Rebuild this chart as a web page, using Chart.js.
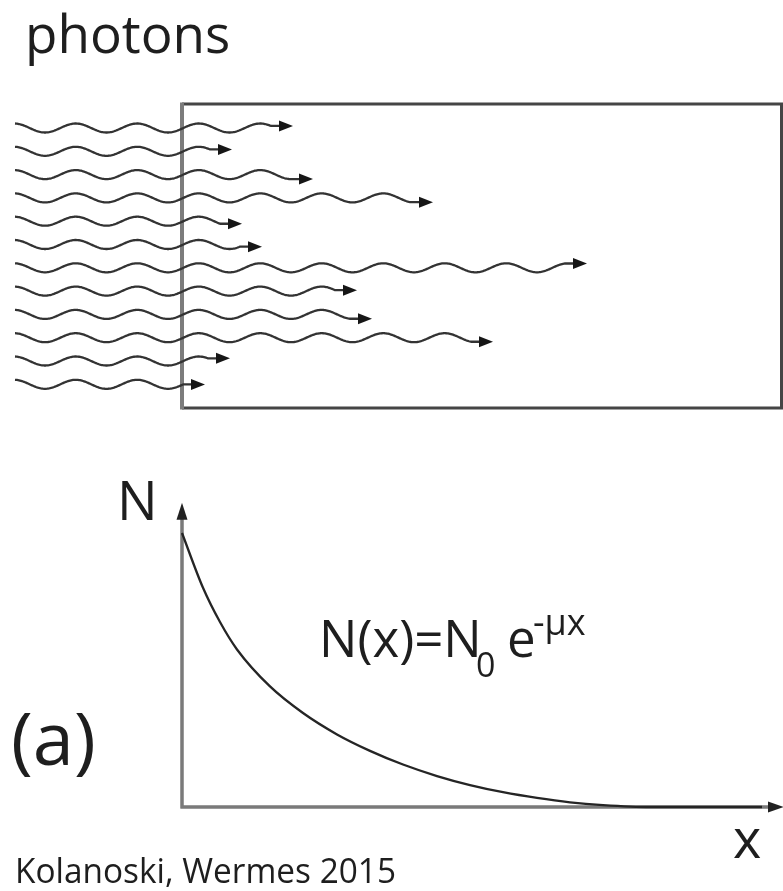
<!DOCTYPE html>
<html lang="en">
  <head>
    <title>Photon absorption</title>
    <meta charset="utf-8" />
    <script src="https://cdn.jsdelivr.net/npm/chart.js"></script>
    <style>
      html, body {
        margin: 0;
        padding: 0;
        background: #fff;
      }
      #wrap {
        width: 783px;
        height: 891px;
      }
    </style>
  </head>
  <body>
    <div id="wrap"><canvas id="fig" width="783" height="891"></canvas></div>

    <script>
      // photon rows (top to bottom) and how deep each one gets into the absorber
      var photonRows = [0, 1, 2, 3, 4, 5, 6, 7, 8, 9, 10, 11];
      var photonDepth = [111, 50, 131, 251, 60, 80, 405, 175, 190, 311, 48, 23];

      // N(x) curve (N in units of N0)
      var curveDepth = [0, 21, 38, 55, 88, 121, 155, 188, 221, 255, 288, 321, 355, 388, 421, 468, 580];
      var curveN = [1.0, 0.8, 0.675, 0.575, 0.44, 0.343, 0.265, 0.205, 0.155, 0.113, 0.08, 0.054, 0.033, 0.017, 0.007, 0.0, 0.0];

      var W = 783, H = 891;
      var x0px = 182;       // absorber entrance / N axis
      var n0px = 807;       // N = 0
      var nUnit = 274;      // px per N0
      var row0px = 128, rowGap = 23.3;

      var ink = "#1e1e1e";

      function text(ctx, s, x, y, size, w) {
        ctx.font = size + 'px "Open Sans"';
        ctx.fillStyle = ink;
        ctx.textBaseline = "alphabetic";
        ctx.textAlign = "left";
        if (w) ctx.fillText(s, x, y, w);
        else ctx.fillText(s, x, y);
      }

      var diagram = {
        id: "diagram",
        beforeDatasetsDraw: (chart) => {
          var ctx = chart.ctx;
          var sx = chart.scales.x, sn = chart.scales.yN;
          var ax = sx.getPixelForValue(0);
          var ay = sn.getPixelForValue(0);
          ctx.save();
          // absorber block
          ctx.lineCap = "butt";
          ctx.strokeStyle = "#454545";
          ctx.lineWidth = 3;
          ctx.beginPath();
          ctx.moveTo(ax, 104);
          ctx.lineTo(W - 1.5, 104);
          ctx.lineTo(W - 1.5, 408);
          ctx.lineTo(ax, 408);
          ctx.stroke();
          ctx.strokeStyle = "#7c7c7c";
          ctx.lineWidth = 4;
          ctx.beginPath();
          ctx.moveTo(ax, 102.5);
          ctx.lineTo(ax, 409.5);
          ctx.stroke();

          // axes of N(x)
          var yTip = sn.getPixelForValue(1.11);
          ctx.strokeStyle = "#7a7a7a";
          ctx.lineWidth = 3.5;
          ctx.beginPath();
          ctx.moveTo(ax, ay + 1.5);
          ctx.lineTo(ax, yTip + 12);
          ctx.moveTo(ax - 1.5, ay);
          ctx.lineTo(W - 14, ay);
          ctx.stroke();
          ctx.fillStyle = "#222";
          ctx.beginPath();
          ctx.moveTo(ax, yTip);
          ctx.lineTo(ax - 5.5, yTip + 17);
          ctx.lineTo(ax + 5.5, yTip + 17);
          ctx.closePath();
          ctx.fill();
          ctx.beginPath();
          ctx.moveTo(W + 1, ay);
          ctx.lineTo(W - 15, ay - 5.5);
          ctx.lineTo(W - 15, ay + 5.5);
          ctx.closePath();
          ctx.fill();
          ctx.restore();
        },
        afterDatasetsDraw: (chart) => {
          var ctx = chart.ctx;
          var sx = chart.scales.x, sr = chart.scales.yRow;
          ctx.save();
          // wavy photons
          var A = 4.5, P = 61.5, ph = 45, xs = 15;
          ctx.strokeStyle = "#333";
          ctx.fillStyle = "#161616";
          ctx.lineWidth = 2.3;
          ctx.lineJoin = "round";
          photonRows.forEach((r, i) => {
            var cy = sr.getPixelForValue(r);
            var tip = sx.getPixelForValue(photonDepth[i]);
            var xe = tip - 22;
            var wy = (px) => cy + A * Math.cos((2 * Math.PI * (px - ph)) / P);
            ctx.beginPath();
            ctx.moveTo(xs, wy(xs));
            for (var px = xs + 1; px <= xe; px++) ctx.lineTo(px, wy(px));
            var ye = wy(xe);
            ctx.lineTo(xe, ye);
            ctx.lineTo(tip - 10, ye);
            ctx.stroke();
            ctx.beginPath();
            ctx.moveTo(tip, ye);
            ctx.lineTo(tip - 14, ye - 5.5);
            ctx.lineTo(tip - 14, ye + 5.5);
            ctx.closePath();
            ctx.fill();
          });

          // labels
          text(ctx, "photons", 25, 53, 53);
          text(ctx, "N", 117, 520, 54);
          text(ctx, "x", 733, 858, 54);
          text(ctx, "(a)", 11, 765, 74);
          text(ctx, "N(x)=N", 319, 657, 51);
          text(ctx, "0", 476, 677, 34);
          text(ctx, "e", 507, 657, 51);
          text(ctx, "-μx", 533, 635, 36);
          text(ctx, "Kolanoski, Wermes 2015", 15, 883, 34, 381);
          ctx.restore();
        },
      };

      var depthData = curveDepth.map((d, i) => ({ x: d, y: curveN[i] }));
      var photonData = photonRows.map((r, i) => ({ x: photonDepth[i], y: r }));

      new Chart(document.getElementById("fig"), {
        type: "line",
        data: {
          datasets: [
            {
              label: "N(x)",
              data: depthData,
              xAxisID: "x",
              yAxisID: "yN",
              borderColor: "#252525",
              borderWidth: 2.3,
              pointRadius: 0,
              cubicInterpolationMode: "monotone",
              clip: false,
            },
            {
              type: "scatter",
              label: "photons",
              data: photonData,
              xAxisID: "x",
              yAxisID: "yRow",
              pointRadius: 0,
              showLine: false,
            },
          ],
        },
        options: {
          responsive: false,
          animation: false,
          devicePixelRatio: 1,
          layout: { padding: 0 },
          plugins: { legend: { display: false }, tooltip: { enabled: false } },
          scales: {
            x: { type: "linear", display: false, min: -x0px, max: W - x0px },
            yN: {
              type: "linear",
              display: false,
              min: -(H - n0px) / nUnit,
              max: n0px / nUnit,
            },
            yRow: {
              type: "linear",
              display: false,
              reverse: true,
              min: -row0px / rowGap,
              max: (H - row0px) / rowGap,
            },
          },
        },
        plugins: [diagram],
      });
    </script>
  </body>
</html>
